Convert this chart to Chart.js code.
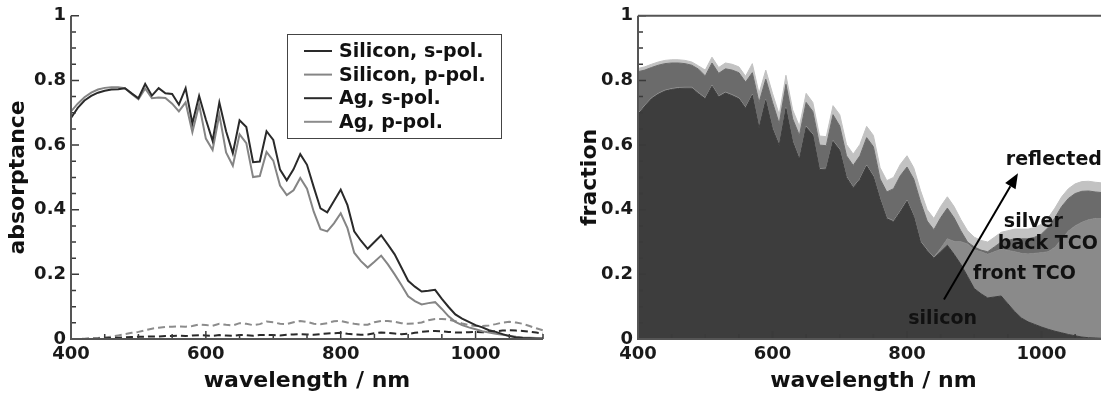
<!DOCTYPE html>
<html>
<head>
<meta charset="utf-8">
<script src="https://cdn.jsdelivr.net/npm/chart.js@4.4.1/dist/chart.umd.min.js"></script>
<style>
html, body { margin: 0; padding: 0; background: #fff; overflow: hidden; width: 1101px; height: 398px; }
#absorb { position: absolute; left: 0; top: 0; }
#fractions { position: absolute; left: 560px; top: 0; }
</style>
</head>
<body>
<canvas id="absorb" width="560" height="398"></canvas>
<canvas id="fractions" width="560" height="398"></canvas>
<script>
// wavelength grid (nm)
const wavelength = [400, 410, 420, 430, 440, 450, 460, 470, 480, 490,
    500, 510, 520, 530, 540, 550, 560, 570, 580, 590,
    600, 610, 620, 630, 640, 650, 660, 670, 680, 690,
    700, 710, 720, 730, 740, 750, 760, 770, 780, 790,
    800, 810, 820, 830, 840, 850, 860, 870, 880, 890,
    900, 910, 920, 930, 940, 950, 960, 970, 980, 990,
    1000, 1010, 1020, 1030, 1040, 1050, 1060, 1070, 1080, 1090, 1100];
const wavelengthTicks = [400, 600, 800, 1000];

// left panel: absorptance
const siliconS = [.684, .715, .738, .752, .762, .768, .772, .773, .776, .760,
    .745, .789, .753, .776, .760, .758, .725, .776, .667, .752,
    .679, .613, .732, .643, .575, .677, .656, .547, .549, .643,
    .616, .524, .491, .525, .572, .539, .470, .404, .392, .427,
    .462, .414, .333, .304, .279, .300, .321, .292, .262, .221,
    .180, .162, .147, .149, .152, .124, .099, .076, .063, .053,
    .043, .036, .027, .022, .015, .009, .005, .003, .002, .001, .001];
const siliconP = [.704, .728, .748, .762, .772, .777, .779, .779, .776, .758,
    .742, .775, .745, .747, .746, .728, .704, .732, .640, .725,
    .620, .585, .694, .577, .536, .633, .606, .501, .504, .579,
    .552, .475, .445, .460, .498, .465, .394, .340, .333, .358,
    .389, .343, .267, .241, .221, .239, .258, .231, .200, .167,
    .132, .117, .107, .111, .114, .093, .070, .053, .043, .036,
    .030, .024, .020, .016, .013, .010, .007, .005, .004, .003, .002];
const agS = [.000, .000, .000, .001, .001, .002, .003, .004, .005, .006,
    .007, .007, .008, .008, .009, .009, .010, .009, .011, .012,
    .011, .010, .012, .011, .010, .012, .012, .010, .012, .013,
    .012, .011, .013, .014, .015, .014, .013, .015, .017, .018,
    .019, .016, .014, .013, .014, .018, .020, .019, .017, .015,
    .016, .019, .022, .024, .025, .024, .022, .020, .020, .021,
    .022, .021, .022, .024, .026, .027, .026, .025, .023, .020, .017];
const agP = [.000, .000, .001, .002, .003, .005, .007, .011, .015, .019,
    .022, .027, .032, .035, .037, .038, .039, .038, .040, .045,
    .043, .041, .047, .044, .042, .049, .047, .043, .046, .054,
    .052, .047, .046, .052, .056, .053, .047, .046, .049, .055,
    .056, .051, .047, .044, .044, .052, .056, .056, .053, .049,
    .047, .048, .051, .058, .062, .062, .060, .055, .048, .043,
    .040, .040, .042, .046, .051, .053, .051, .047, .040, .033, .027];

// right panel: cumulative fractions (upper edge of each layer)
const siliconTop = [.694, .720, .743, .757, .767, .772, .775, .776, .776, .759,
    .743, .782, .749, .761, .753, .743, .714, .754, .653, .738,
    .650, .599, .713, .610, .556, .655, .631, .524, .526, .611,
    .584, .500, .468, .493, .535, .502, .432, .372, .363, .393,
    .426, .379, .300, .273, .250, .270, .290, .262, .231, .194,
    .156, .140, .127, .130, .133, .109, .085, .065, .053, .045,
    .037, .030, .024, .019, .014, .010, .006, .004, .003, .002, .002];
const frontTcoTop = [.697, .723, .746, .760, .770, .775, .778, .779, .779, .762,
    .746, .785, .752, .764, .756, .746, .717, .757, .656, .741,
    .653, .602, .716, .613, .559, .658, .634, .527, .529, .614,
    .587, .503, .471, .496, .538, .505, .435, .375, .366, .396,
    .429, .382, .303, .276, .253, .280, .310, .302, .301, .294,
    .276, .270, .262, .270, .278, .274, .270, .265, .263, .265,
    .267, .270, .284, .309, .334, .350, .361, .369, .373, .372, .372];
const backTcoTop = [.827, .832, .840, .847, .852, .854, .854, .852, .847, .835,
    .814, .854, .822, .836, .832, .824, .795, .824, .732, .804,
    .732, .666, .788, .681, .630, .732, .704, .600, .598, .694,
    .659, .567, .537, .567, .623, .595, .495, .455, .465, .505,
    .532, .495, .425, .365, .338, .375, .405, .375, .335, .300,
    .285, .275, .270, .285, .300, .305, .310, .310, .310, .315,
    .325, .345, .375, .410, .435, .450, .457, .458, .455, .453, .450];
const silverTop = [.837, .842, .850, .857, .862, .864, .864, .862, .857, .845,
    .832, .872, .840, .854, .850, .842, .813, .852, .760, .832,
    .760, .694, .816, .709, .658, .760, .732, .628, .626, .722,
    .694, .602, .572, .602, .658, .630, .530, .490, .500, .540,
    .567, .530, .460, .400, .373, .410, .440, .410, .370, .335,
    .315, .305, .300, .315, .330, .335, .340, .340, .340, .345,
    .355, .375, .405, .440, .465, .480, .487, .488, .485, .483, .480];

// text labels in the right panel (data coordinates)
const layerLabels = [
    { text: 'reflected', x: 947, y: 0.553, align: 'left' },
    { text: 'silver', x: 944, y: 0.363, align: 'left' },
    { text: 'back TCO', x: 935, y: 0.293, align: 'left' },
    { text: 'front TCO', x: 898, y: 0.200, align: 'left' },
    { text: 'silicon', x: 853, y: 0.061, align: 'center' }
];
const arrowFrom = { x: 855, y: 0.122 };
const arrowTo = { x: 965, y: 0.513 };

const FONT = '"DejaVu Sans", sans-serif';
const TEXT = '#1a1a1a';

const pts = arr => wavelength.map((w, i) => ({ x: w, y: arr[i] }));

// inward ticks and axis lines
function axisDecor(withTop) {
    return {
        id: 'axisDecor',
        afterDatasetsDraw(chart) {
            const { ctx, chartArea: a, scales: { x, y } } = chart;
            ctx.save();
            ctx.strokeStyle = '#3a3a3a';
            ctx.lineWidth = 1.5;
            ctx.beginPath();
            for (let v = 400; v <= 1100; v += 50) {
                const px = x.getPixelForValue(v);
                const len = v % 200 === 0 ? 8 : 5;
                ctx.moveTo(px, a.bottom);
                ctx.lineTo(px, a.bottom - len);
            }
            for (let i = 0; i <= 20; i++) {
                const py = y.getPixelForValue(i * 0.05);
                const len = i % 4 === 0 ? 8 : 5;
                ctx.moveTo(a.left, py);
                ctx.lineTo(a.left + len, py);
            }
            ctx.stroke();
            ctx.strokeStyle = '#555';
            ctx.lineWidth = 2;
            ctx.beginPath();
            ctx.moveTo(a.left, a.top);
            ctx.lineTo(a.left, a.bottom);
            ctx.lineTo(a.right, a.bottom);
            if (withTop) {
                ctx.moveTo(a.left, a.top);
                ctx.lineTo(a.right, a.top);
                ctx.lineTo(a.right, a.bottom);
            }
            ctx.stroke();
            ctx.restore();
        }
    };
}

const legendBox = {
    id: 'legendBox',
    afterDraw(chart) {
        const ctx = chart.ctx;
        ctx.save();
        ctx.fillStyle = '#fff';
        ctx.fillRect(287.5, 34.5, 214, 104);
        ctx.strokeStyle = '#444';
        ctx.lineWidth = 1;
        ctx.strokeRect(287.5, 34.5, 214, 104);
        ctx.font = 'bold 19px ' + FONT;
        ctx.textBaseline = 'middle';
        chart.data.datasets.forEach((ds, i) => {
            const yy = 51 + i * 23.6;
            ctx.strokeStyle = ds.borderColor;
            ctx.lineWidth = 2;
            ctx.beginPath();
            ctx.moveTo(304, yy);
            ctx.lineTo(332, yy);
            ctx.stroke();
            ctx.fillStyle = '#111';
            ctx.fillText(ds.label, 339, yy + 1);
        });
        ctx.restore();
    }
};

const labelsPlugin = {
    id: 'labelsPlugin',
    afterDraw(chart) {
        const { ctx, scales: { x, y } } = chart;
        ctx.save();
        ctx.font = 'bold 19px ' + FONT;
        ctx.textBaseline = 'middle';
        ctx.fillStyle = '#111';
        layerLabels.forEach(l => {
            ctx.textAlign = l.align;
            ctx.fillText(l.text, x.getPixelForValue(l.x), y.getPixelForValue(l.y));
        });
        const x1 = x.getPixelForValue(arrowFrom.x), y1 = y.getPixelForValue(arrowFrom.y);
        const x2 = x.getPixelForValue(arrowTo.x), y2 = y.getPixelForValue(arrowTo.y);
        const ang = Math.atan2(y2 - y1, x2 - x1);
        const hl = 15, hw = 6;
        const bx = x2 - hl * Math.cos(ang), by = y2 - hl * Math.sin(ang);
        ctx.strokeStyle = '#000';
        ctx.lineWidth = 2;
        ctx.beginPath();
        ctx.moveTo(x1, y1);
        ctx.lineTo(bx, by);
        ctx.stroke();
        ctx.fillStyle = '#000';
        ctx.beginPath();
        ctx.moveTo(x2, y2);
        ctx.lineTo(bx + hw * Math.sin(ang), by - hw * Math.cos(ang));
        ctx.lineTo(bx - hw * Math.sin(ang), by + hw * Math.cos(ang));
        ctx.closePath();
        ctx.fill();
        ctx.restore();
    }
};

function scales(yTitle, yWidth, yTitlePad) {
    return {
        x: {
            type: 'linear', min: 400, max: 1100,
            afterBuildTicks: s => { s.ticks = wavelengthTicks.map(v => ({ value: v })); },
            afterFit: s => { s.height = 59; },
            grid: { display: false, drawTicks: false },
            border: { display: false },
            ticks: { padding: 5, color: TEXT, font: { family: FONT, size: 18, weight: 'bold' }, maxRotation: 0,
                callback: v => String(v) },
            title: { display: true, text: 'wavelength / nm', color: '#111', padding: { bottom: 4 },
                font: { family: FONT, size: 22, weight: 'bold' } }
        },
        y: {
            min: 0, max: 1,
            afterFit: s => { s.width = yWidth; },
            grid: { display: false, drawTicks: false },
            border: { display: false },
            ticks: { stepSize: 0.2, padding: 5, color: TEXT, font: { family: FONT, size: 18, weight: 'bold' },
                callback: v => String(Number(v.toFixed(2))) },
            title: { display: true, text: yTitle, color: '#111', padding: { top: yTitlePad },
                font: { family: FONT, size: 22, weight: 'bold' } }
        }
    };
}

const common = {
    responsive: false,
    animation: false,
    devicePixelRatio: 1,
    plugins: { legend: { display: false }, tooltip: { enabled: false } },
    elements: { point: { radius: 0 }, line: { tension: 0 } }
};

new Chart(document.getElementById('absorb'), {
    type: 'line',
    data: {
        datasets: [
            { label: 'Silicon, s-pol.', data: pts(siliconS), borderColor: '#2a2a2a', borderWidth: 2 },
            { label: 'Silicon, p-pol.', data: pts(siliconP), borderColor: '#858585', borderWidth: 2 },
            { label: 'Ag, s-pol.', data: pts(agS), borderColor: '#2a2a2a', borderWidth: 2, borderDash: [7, 4] },
            { label: 'Ag, p-pol.', data: pts(agP), borderColor: '#8c8c8c', borderWidth: 2, borderDash: [7, 4] }
        ]
    },
    options: Object.assign({}, common, {
        layout: { padding: { left: 0, top: 11.5, right: 17, bottom: 0 } },
        scales: scales('absorptance', 71, 5)
    }),
    plugins: [axisDecor(false), legendBox]
});

const layer = (label, arr, color, fill) => ({
    label, data: pts(arr), fill, backgroundColor: color, borderColor: color, borderWidth: 1
});

new Chart(document.getElementById('fractions'), {
    type: 'line',
    data: {
        datasets: [
            layer('silicon', siliconTop, '#3d3d3d', 'origin'),
            layer('front TCO', frontTcoTop, '#8a8a8a', '-1'),
            layer('back TCO', backTcoTop, '#6b6b6b', '-1'),
            layer('silver', silverTop, '#c2c2c2', '-1')
        ]
    },
    options: Object.assign({}, common, {
        layout: { padding: { left: 0, top: 12.7, right: 11.25, bottom: 0 } },
        scales: scales('fraction', 78, 17)
    }),
    plugins: [axisDecor(true), labelsPlugin]
});
</script>
</body>
</html>
